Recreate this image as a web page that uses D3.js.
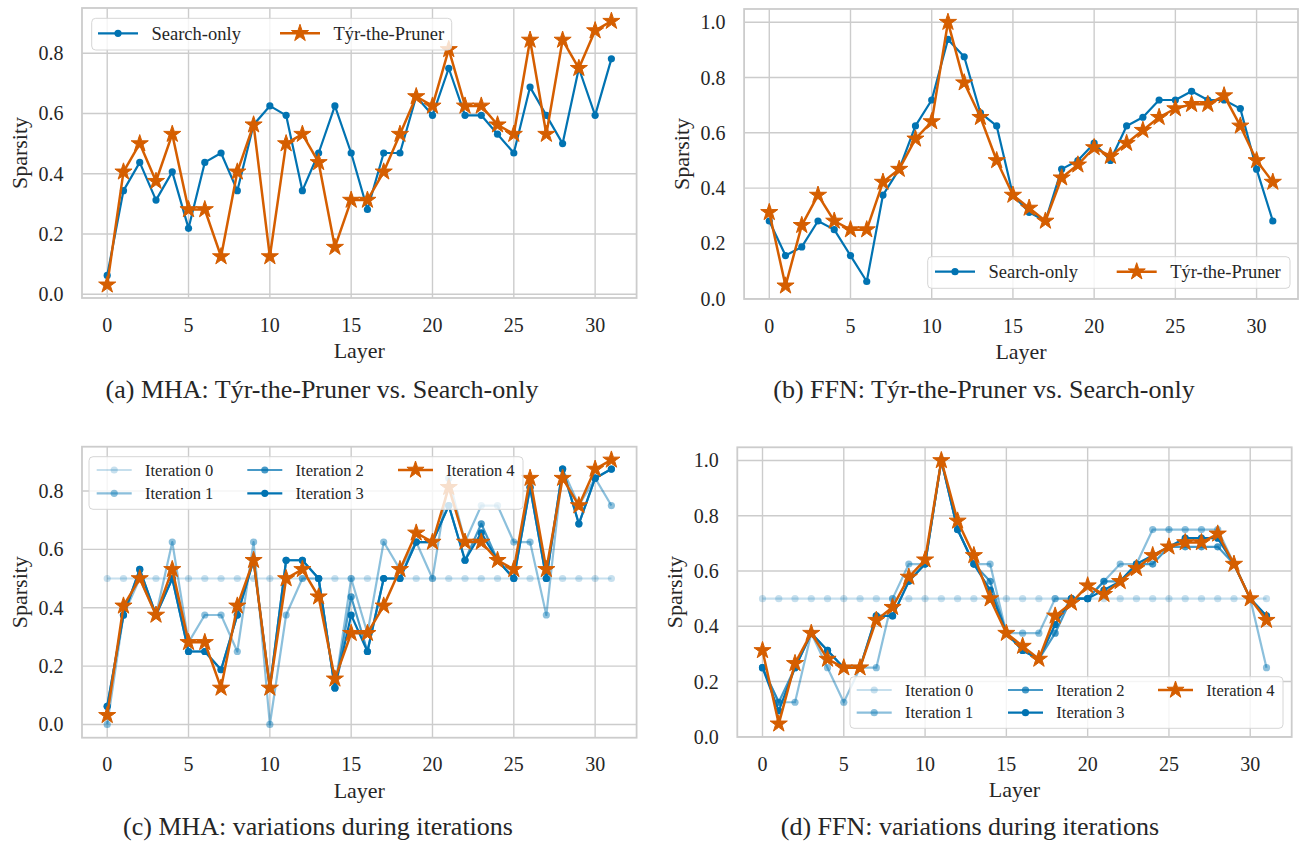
<!DOCTYPE html>
<html>
<meta charset="utf-8">
<head>
<script src="https://cdnjs.cloudflare.com/ajax/libs/d3/7.8.5/d3.min.js"></script>
<style>
	body { margin: 0; background: #fff; }
	svg text { font-family: 'Liberation Serif', 'Times New Roman', Times, 'DejaVu Serif', serif; fill: #262626; }
	.grid { stroke: #cccccc; stroke-width: 1.4px; }
	.frame { fill: none; stroke: #cccccc; stroke-width: 1.8px; }
	.legendbox { fill: #fff; fill-opacity: 0.8; stroke: #d6d6d6; stroke-width: 1px; }
</style>
</head>
<body>
<script>
// layers on the x axis and tick labels
var layers = [0,1,2,3,4,5,6,7,8,9,10,11,12,13,14,15,16,17,18,19,20,21,22,23,24,25,26,27,28,29,30,31];
var xTicks = [0, 5, 10, 15, 20, 25, 30];
var mhaTicks = [0.0, 0.2, 0.4, 0.6, 0.8];
var ffnTicks = [0.0, 0.2, 0.4, 0.6, 0.8, 1.0];

// (a) MHA
var mhaSearch = [0.0625,0.34375,0.4375,0.3125,0.40625,0.21875,0.4375,0.46875,0.34375,0.5625,0.625,0.59375,0.34375,0.46875,0.625,0.46875,
	0.28125,0.46875,0.46875,0.65625,0.59375,0.75,0.59375,0.59375,0.53125,0.46875,0.6875,0.59375,0.5,0.75,0.59375,0.78125];
var mhaTyr = [0.03125,0.40625,0.5,0.375,0.53125,0.28125,0.28125,0.125,0.40625,0.5625,0.125,0.5,0.53125,0.4375,0.15625,0.3125,
	0.3125,0.40625,0.53125,0.65625,0.625,0.8125,0.625,0.625,0.5625,0.53125,0.84375,0.53125,0.84375,0.75,0.875,0.90625];

// (b) FFN
var ffnSearch = [0.28125,0.15625,0.1875,0.28125,0.25,0.15625,0.0625,0.375,0.46875,0.625,0.71875,0.9375,0.875,0.671875,0.625,0.375,
	0.3125,0.28125,0.46875,0.5,0.5625,0.5,0.625,0.65625,0.71875,0.71875,0.75,0.71875,0.71875,0.6875,0.46875,0.28125];
var ffnTyr = [0.3125,0.046875,0.265625,0.375,0.28125,0.25,0.25,0.421875,0.46875,0.578125,0.640625,1.0,0.78125,0.65625,0.5,0.375,
	0.328125,0.28125,0.4375,0.484375,0.546875,0.515625,0.5625,0.609375,0.65625,0.6875,0.703125,0.703125,0.734375,0.625,0.5,0.421875];

// (c) MHA iterations
var mhaIter0 = [0.5,0.5,0.5,0.5,0.5,0.5,0.5,0.5,0.5,0.5,0.5,0.5,0.5,0.5,0.5,0.5,0.5,0.5,0.5,0.5,0.5,0.5,0.5,0.5,0.5,0.5,0.5,0.5,0.5,0.5,0.5,0.5];
var mhaIter1 = [0,0.375,0.5,0.375,0.625,0.28125,0.375,0.375,0.25,0.625,0,0.375,0.5,0.5,0.125,0.5,
	0.3125,0.625,0.53125,0.625,0.5,0.84375,0.625,0.75,0.75,0.625,0.625,0.375,0.875,0.75,0.84375,0.75];
var mhaIter2 = [0.0625,0.375,0.53125,0.375,0.5,0.25,0.25,0.1875,0.375,0.5625,0.125,0.5625,0.5625,0.5,0.125,0.4375,
	0.25,0.5,0.5,0.625,0.625,0.75,0.5625,0.6875,0.5625,0.5,0.8125,0.5,0.875,0.6875,0.84375,0.875];
var mhaIter3 = [0.0625,0.375,0.53125,0.375,0.5,0.25,0.25,0.1875,0.375,0.5625,0.125,0.5625,0.5625,0.5,0.125,0.375,
	0.25,0.5,0.5,0.625,0.625,0.75,0.5625,0.65625,0.5625,0.5,0.8125,0.5,0.875,0.6875,0.84375,0.875];

// (d) FFN iterations
var ffnIter0 = [0.5,0.5,0.5,0.5,0.5,0.5,0.5,0.5,0.5,0.5,0.5,0.5,0.5,0.5,0.5,0.5,0.5,0.5,0.5,0.5,0.5,0.5,0.5,0.5,0.5,0.5,0.5,0.5,0.5,0.5,0.5,0.5];
var ffnIter1 = [0.25,0.125,0.125,0.375,0.25,0.125,0.25,0.25,0.5,0.625,0.625,1.0,0.75,0.625,0.625,0.375,
	0.375,0.375,0.5,0.5,0.5,0.5625,0.625,0.625,0.75,0.75,0.75,0.75,0.75,0.625,0.5,0.25];
var ffnIter2 = [0.25,0.125,0.25,0.375,0.3125,0.25,0.25,0.4375,0.4375,0.5625,0.625,1.0,0.75,0.625,0.5625,0.375,
	0.3125,0.28125,0.375,0.5,0.5,0.5625,0.5625,0.625,0.625,0.6875,0.6875,0.6875,0.6875,0.625,0.5,0.4375];
var ffnIter3 = [0.25,0.09375,0.25,0.375,0.3125,0.25,0.25,0.4375,0.4375,0.5625,0.625,1.0,0.75,0.625,0.53125,0.375,
	0.3125,0.28125,0.40625,0.5,0.5,0.53125,0.5625,0.625,0.65625,0.6875,0.71875,0.71875,0.71875,0.625,0.5,0.4375];

var blue = "#0173b2", orange = "#d55e00";
var serif = "'Liberation Serif', 'Times New Roman', Times, 'DejaVu Serif', serif";

var svg = d3.select("body").append("svg")
	.attr("width", 1302)
	.attr("height", 844)
	.attr("font-family", serif);

// matplotlib-like star marker
function starPath(R) {
	var r = R * 0.381966, pts = [];
	for (var i = 0; i < 10; i++) {
		var a = -Math.PI / 2 + i * Math.PI / 5;
		var rr = i % 2 ? r : R;
		pts.push([rr * Math.cos(a), rr * Math.sin(a)]);
	}
	return "M" + pts.map(function(p) { return p[0].toFixed(2) + "," + p[1].toFixed(2); }).join("L") + "Z";
}

function drawMarker(g, s, cx, cy) {
	if (s.marker == "star") {
		g.append("path")
			.attr("d", starPath(9))
			.attr("transform", "translate(" + cx + "," + cy + ")")
			.attr("fill", s.color)
			.attr("stroke", s.color)
			.attr("stroke-width", 1)
			.attr("opacity", s.alpha);
	} else {
		g.append("circle")
			.attr("cx", cx).attr("cy", cy).attr("r", 3.6)
			.attr("fill", s.color)
			.attr("opacity", s.alpha);
	}
}

function addText(g, x, y, size, str) {
	return g.append("text")
		.attr("x", x).attr("y", y)
		.attr("font-family", serif)
		.attr("font-size", size)
		.text(str);
}

function drawPanel(p) {
	var g = svg.append("g");

	var xe = d3.extent(layers), xp = (xe[1] - xe[0]) * 0.05;
	var x = d3.scaleLinear().domain([xe[0] - xp, xe[1] + xp]).range([p.left, p.right]);

	var all = [];
	p.series.forEach(function(s) { all = all.concat(s.values); });
	var ye = d3.extent(all), yp = (ye[1] - ye[0]) * 0.05;
	var y = d3.scaleLinear().domain([ye[0] - yp, ye[1] + yp]).range([p.bottom, p.top]);

	// grid
	g.selectAll(".gx").data(xTicks).enter().append("line")
		.attr("class", "grid")
		.attr("x1", function(d) { return x(d); }).attr("x2", function(d) { return x(d); })
		.attr("y1", p.top).attr("y2", p.bottom);
	g.selectAll(".gy").data(p.yTicks).enter().append("line")
		.attr("class", "grid")
		.attr("x1", p.left).attr("x2", p.right)
		.attr("y1", function(d) { return y(d); }).attr("y2", function(d) { return y(d); });

	g.append("rect")
		.attr("class", "frame")
		.attr("x", p.left).attr("y", p.top)
		.attr("width", p.right - p.left).attr("height", p.bottom - p.top);

	// tick labels
	xTicks.forEach(function(t) {
		addText(g, x(t), p.bottom + 33.5, 20, t).attr("text-anchor", "middle");
	});
	p.yTicks.forEach(function(t) {
		addText(g, p.left - 18.5, y(t), 20, d3.format(".1f")(t))
			.attr("dy", "0.35em")
			.attr("text-anchor", "end");
	});

	// axis labels
	addText(g, (p.left + p.right) / 2, p.bottom + 60, 22, "Layer").attr("text-anchor", "middle");
	addText(g, 0, 0, 22, "Sparsity")
		.attr("transform", "translate(" + (p.left - 55.5) + "," + ((p.top + p.bottom) / 2) + ") rotate(-90)")
		.attr("text-anchor", "middle");

	// series
	var line = d3.line()
		.x(function(d, i) { return x(layers[i]); })
		.y(function(d) { return y(d); });
	p.series.forEach(function(s) {
		g.append("path")
			.datum(s.values)
			.attr("d", line)
			.attr("fill", "none")
			.attr("stroke", s.color)
			.attr("stroke-width", s.width)
			.attr("stroke-linejoin", "round")
			.attr("opacity", s.alpha);
		var mg = g.append("g");
		s.values.forEach(function(v, i) {
			drawMarker(mg, s, x(layers[i]), y(v));
		});
	});

	// legend
	var L = p.legend;
	var lg = g.append("g");
	lg.append("rect")
		.attr("class", "legendbox")
		.attr("x", L.x).attr("y", L.y)
		.attr("width", L.w).attr("height", L.h)
		.attr("rx", 4);
	L.items.forEach(function(it) {
		var s = p.series[it.s];
		lg.append("line")
			.attr("x1", it.hx).attr("x2", it.hx + L.hw)
			.attr("y1", it.ry).attr("y2", it.ry)
			.attr("stroke", s.color)
			.attr("stroke-width", s.width)
			.attr("opacity", s.alpha);
		drawMarker(lg, s, it.hx + L.hw / 2, it.ry);
		addText(lg, it.hx + L.hw + L.gap, it.ry, L.font, s.name).attr("dy", "0.35em");
	});

	// caption
	addText(g, p.capX, p.capY, 26, p.caption).attr("text-anchor", "middle");
}

function pairSeries(search, tyr) {
	return [
		{name: "Search-only", values: search, color: blue, marker: "circle", width: 2.2, alpha: 1},
		{name: "Týr-the-Pruner", values: tyr, color: orange, marker: "star", width: 2.5, alpha: 1}
	];
}
function iterSeries(i0, i1, i2, i3, i4) {
	return [
		{name: "Iteration 0", values: i0, color: blue, marker: "circle", width: 2.2, alpha: 0.22},
		{name: "Iteration 1", values: i1, color: blue, marker: "circle", width: 2.2, alpha: 0.45},
		{name: "Iteration 2", values: i2, color: blue, marker: "circle", width: 2.2, alpha: 0.72},
		{name: "Iteration 3", values: i3, color: blue, marker: "circle", width: 2.2, alpha: 1},
		{name: "Iteration 4", values: i4, color: orange, marker: "star", width: 2.5, alpha: 1}
	];
}

drawPanel({
	left: 82, right: 636.6, top: 8, bottom: 298, yTicks: mhaTicks,
	series: pairSeries(mhaSearch, mhaTyr),
	caption: "(a) MHA: Týr-the-Pruner vs. Search-only", capX: 322, capY: 398,
	legend: {x: 91.7, y: 18.3, w: 360, h: 31.7, hw: 40, gap: 13.5, font: 18.5,
		items: [{s: 0, hx: 98, ry: 33.3}, {s: 1, hx: 280, ry: 33.3}]}
});

drawPanel({
	left: 744.1, right: 1298, top: 9, bottom: 299, yTicks: ffnTicks,
	series: pairSeries(ffnSearch, ffnTyr),
	caption: "(b) FFN: Týr-the-Pruner vs. Search-only", capX: 984, capY: 398,
	legend: {x: 927.7, y: 256.7, w: 362.3, h: 31.6, hw: 40, gap: 13.5, font: 18.5,
		items: [{s: 0, hx: 935, ry: 271.7}, {s: 1, hx: 1116.7, ry: 271.7}]}
});

drawPanel({
	left: 82, right: 636.6, top: 446.7, bottom: 737.7, yTicks: mhaTicks,
	series: iterSeries(mhaIter0, mhaIter1, mhaIter2, mhaIter3, mhaTyr),
	caption: "(c) MHA: variations during iterations", capX: 318, capY: 835,
	legend: {x: 89, y: 456.7, w: 434, h: 52.6, hw: 35, gap: 13.3, font: 16.5,
		items: [{s: 0, hx: 96.7, ry: 470}, {s: 1, hx: 96.7, ry: 493.3},
			{s: 2, hx: 247.3, ry: 470}, {s: 3, hx: 247.3, ry: 493.3},
			{s: 4, hx: 398, ry: 470}]}
});

drawPanel({
	left: 737.3, right: 1291.7, top: 447.3, bottom: 737, yTicks: ffnTicks,
	series: iterSeries(ffnIter0, ffnIter1, ffnIter2, ffnIter3, ffnTyr),
	caption: "(d) FFN: variations during iterations", capX: 970, capY: 835,
	legend: {x: 850, y: 676.7, w: 433, h: 51.6, hw: 35, gap: 13.3, font: 16.5,
		items: [{s: 0, hx: 856.7, ry: 690}, {s: 1, hx: 856.7, ry: 712.7},
			{s: 2, hx: 1008, ry: 690}, {s: 3, hx: 1008, ry: 712.7},
			{s: 4, hx: 1158, ry: 690}]}
});
</script>
</body>
</html>
